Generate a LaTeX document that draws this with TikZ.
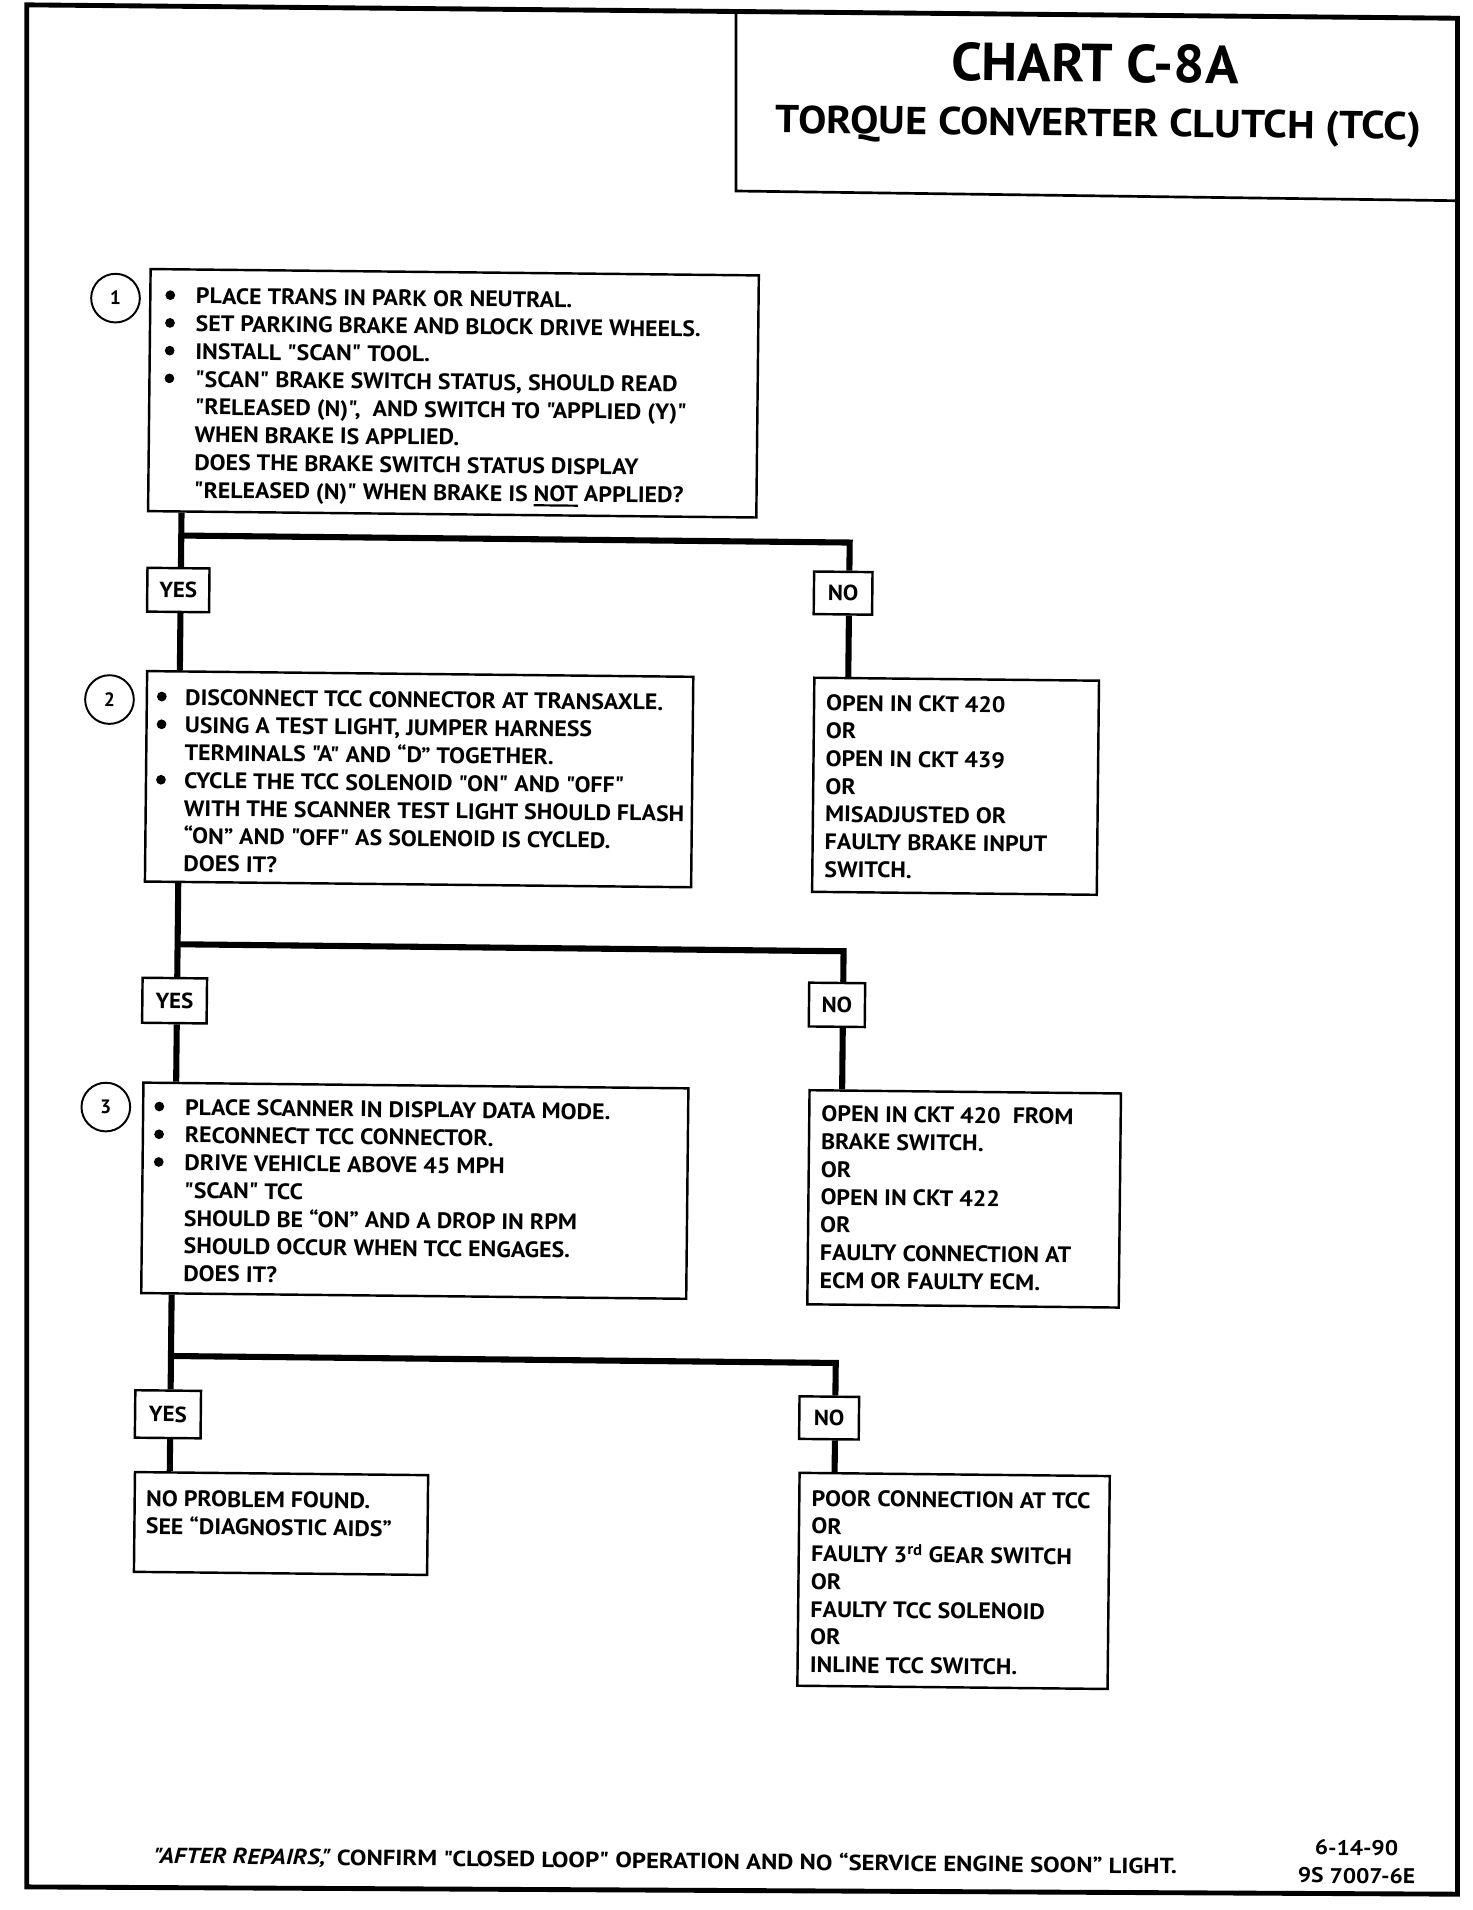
\documentclass[tikz,border=0pt]{standalone}
\usepackage{fontspec}
\setmainfont{PT Sans}[Ligatures=TeXOff]
\newfontfamily\bodyf{PT Sans}[Ligatures=TeXOff,FakeStretch=1.065]
\newfontfamily\footf{PT Sans}[Ligatures=TeXOff,FakeStretch=1.13]
\newfontfamily\dataf{PT Sans}[Ligatures=TeXOff,FakeStretch=1.1]
\newfontfamily\titlea{PT Sans}[Ligatures=TeXOff,FakeStretch=1.03]
\newfontfamily\titleb{PT Sans}[Ligatures=TeXOff,FakeStretch=1.085]
\newfontfamily\ynf{PT Sans}[Ligatures=TeXOff,FakeStretch=1.05]
\newlength\bulw
\newcommand\ind{\hspace*{\bulw}}
\newcommand\ulx[1]{\setbox0\hbox{#1}\rlap{\rule[-4pt]{\wd0}{1.8pt}}\box0\relax}
\newcommand\bodyfont{\bodyf\fontsize{18.4}{22.8}\selectfont\bfseries}
\tikzset{
  rbox/.style={draw, line width=2pt, inner sep=0pt},
  txt/.style={anchor=north west, inner sep=0pt, align=left, font=\bodyfont},
  yn/.style={draw, line width=2pt, inner sep=0pt, font=\ynf\fontsize{18}{18}\selectfont\bfseries},
  conn/.style={line width=5pt},
  bul/.style={circle, fill, inner sep=0pt, minimum size=8pt},
  num/.style={circle, draw, line width=1.6pt, minimum size=40pt, inner sep=0pt, font=\fontsize{16}{16}\selectfont\bfseries},
}
\begin{document}
\begin{tikzpicture}[x=1pt,y=-1pt]
\useasboundingbox (0,0) rectangle (1210,1570);
% outer frame and title box
\draw[line width=4pt] (22,4) -- (1198,15) -- (1198,1557) -- (22,1551) -- cycle;
\draw[line width=2.2pt] (605,9) -- (605,157) -- (1198,165);
\begin{scope}[rotate around={-0.6:(605,785)}, transform shape]
% title
\node[font=\titlea\fontsize{44}{44}\selectfont\bfseries] (t1) at (892.3,48.9) {CHART C-8A};
\node[font=\titleb\fontsize{32}{32}\selectfont\bfseries] (t2) at (895.9,100.9) {TORQUE CONVERTER CLUTCH (TCC)};
% step numbers
\node[num] (c1) at (89.3,250.4) {1};
\node[num] (c2) at (87.8,580.4) {2};
\node[num] (c3) at (88.3,915.4) {3};
% boxes
\node[rbox, minimum width=500pt, minimum height=199pt] (box1) at (367.9,325.7) {};
\node[rbox, minimum width=449pt, minimum height=173pt] (box2) at (343.0,643.2) {};
\node[rbox, minimum width=448pt, minimum height=173pt] (box3) at (343.0,981.5) {};
\node[rbox, minimum width=234pt, minimum height=176pt] (n1) at (784.0,644.4) {};
\node[rbox, minimum width=256pt, minimum height=176pt] (n2) at (794.6,983.5) {};
\node[rbox, minimum width=241pt, minimum height=82pt] (r1) at (235.9,1256.2) {};
\node[rbox, minimum width=255pt, minimum height=175pt] (r2) at (789.2,1297.6) {};
% yes / no labels
\node[yn, minimum width=51pt, minimum height=36pt] (yes1) at (143.4,489.8) {YES};
\node[yn, minimum width=48pt, minimum height=35pt] (no1) at (689.9,486.6) {NO};
\node[yn, minimum width=53pt, minimum height=37pt] (yes2) at (143.9,827.3) {YES};
\node[yn, minimum width=46pt, minimum height=36pt] (no2) at (688.4,825.1) {NO};
\node[yn, minimum width=54pt, minimum height=39pt] (yes3) at (142.0,1167.4) {YES};
\node[yn, minimum width=49pt, minimum height=35pt] (no3) at (685.5,1164.7) {NO};
% junctions
\coordinate (j1) at (0,445);
\coordinate (j2) at (0,781);
\coordinate (j3) at (0,1119.5);
% connectors
\draw[conn] ([xshift=2pt]yes1.north |- box1.south) -- ([xshift=2pt]yes1.north);
\draw[conn] ([xshift=2pt]yes1.north |- j1) -| ([xshift=5pt]no1.north);
\draw[conn] ([xshift=2pt]yes1.south) -- ([xshift=2pt]yes1.south |- box2.north);
\draw[conn] ([xshift=5pt]no1.south) -- ([xshift=5pt]no1.south |- n1.north);
\draw[conn] ([xshift=2pt]yes2.north |- box2.south) -- ([xshift=2pt]yes2.north);
\draw[conn] ([xshift=2pt]yes2.north |- j2) -| ([xshift=5pt]no2.north);
\draw[conn] ([xshift=2pt]yes2.south) -- ([xshift=2pt]yes2.south |- box3.north);
\draw[conn] ([xshift=5pt]no2.south) -- ([xshift=5pt]no2.south |- n2.north);
\draw[conn] ([xshift=2pt]yes3.north |- box3.south) -- ([xshift=2pt]yes3.north);
\draw[conn] ([xshift=2pt]yes3.north |- j3) -| ([xshift=5pt]no3.north);
\draw[conn] ([xshift=2pt]yes3.south) -- ([xshift=2pt]yes3.south |- r1.north);
\draw[conn] ([xshift=5pt]no3.south) -- ([xshift=5pt]no3.south |- r2.north);
% bullets
\node[bul] (b11) at (134.3,247.5) {};
\node[bul] (b12) at (134.3,270.3) {};
\node[bul] (b13) at (134.3,293.1) {};
\node[bul] (b14) at (134.3,315.9) {};
\node[bul] (b21) at (130.8,577.5) {};
\node[bul] (b22) at (130.8,600.3) {};
\node[bul] (b23) at (130.8,645.9) {};
\node[bul] (b31) at (132.3,914.5) {};
\node[bul] (b32) at (132.3,937.3) {};
\node[bul] (b33) at (132.3,960.1) {};
% texts
\node[txt] (tx1) at (130.3,241.0) {\global\bulw=25pt\ind PLACE TRANS IN PARK OR NEUTRAL.\\
\ind SET PARKING BRAKE AND BLOCK DRIVE WHEELS.\\
\ind INSTALL "SCAN" TOOL.\\
\ind "SCAN" BRAKE SWITCH STATUS, SHOULD READ\\
\ind "RELEASED (N)",\ \ AND SWITCH TO "APPLIED (Y)"\\
\ind WHEN BRAKE IS APPLIED.\\
\ind DOES THE BRAKE SWITCH STATUS DISPLAY\\
\ind "RELEASED (N)" WHEN BRAKE IS \ulx{NOT} APPLIED?};
\node[txt] (tx2) at (126.8,571.0) {\global\bulw=23pt\ind DISCONNECT TCC CONNECTOR AT TRANSAXLE.\\
\ind USING A TEST LIGHT, JUMPER HARNESS\\
\ind TERMINALS "A" AND “D” TOGETHER.\\
\ind CYCLE THE TCC SOLENOID "ON" AND "OFF"\\
\ind WITH THE SCANNER TEST LIGHT SHOULD FLASH\\
\ind “ON” AND "OFF" AS SOLENOID IS CYCLED.\\
\ind DOES IT?};
\node[txt] (tx3) at (128.3,908.0) {\global\bulw=25pt\ind PLACE SCANNER IN DISPLAY DATA MODE.\\
\ind RECONNECT TCC CONNECTOR.\\
\ind DRIVE VEHICLE ABOVE 45 MPH\\
\ind "SCAN" TCC\\
\ind SHOULD BE “ON” AND A DROP IN RPM\\
\ind SHOULD OCCUR WHEN TCC ENGAGES.\\
\ind DOES IT?};
\node[txt] (txn1) at (676.8,570.2) {OPEN IN CKT 420\\OR\\OPEN IN CKT 439\\OR\\MISADJUSTED OR\\FAULTY BRAKE INPUT\\SWITCH.};
\node[txt] (txn2) at (676.4,907.9) {OPEN IN CKT 420\ \ FROM\\BRAKE SWITCH.\\OR\\OPEN IN CKT 422\\OR\\FAULTY CONNECTION AT\\ECM OR FAULTY ECM.};
\node[txt] (txr1) at (124.7,1229.8) {NO PROBLEM FOUND.\\SEE “DIAGNOSTIC AIDS”};
\node[txt] (txr2) at (671.7,1224.0) {POOR CONNECTION AT TCC\\OR\\FAULTY 3\textsuperscript{rd} GEAR SWITCH\\OR\\FAULTY TCC SOLENOID\\OR\\INLINE TCC SWITCH.};
% footer
\node[font=\footf\fontsize{18}{18}\selectfont\bfseries] (foot) at (554.8,1530.6) {{\itshape "AFTER REPAIRS,"} CONFIRM "CLOSED LOOP" OPERATION AND NO “SERVICE ENGINE SOON” LIGHT.};
\node[font=\dataf\fontsize{17.5}{17.5}\selectfont\bfseries] (date) at (1122.7,1513.6) {6-14-90};
\node[font=\dataf\fontsize{17.5}{17.5}\selectfont\bfseries] (code) at (1123,1536.6) {9S 7007-6E};
\end{scope}
\end{tikzpicture}
\end{document}
